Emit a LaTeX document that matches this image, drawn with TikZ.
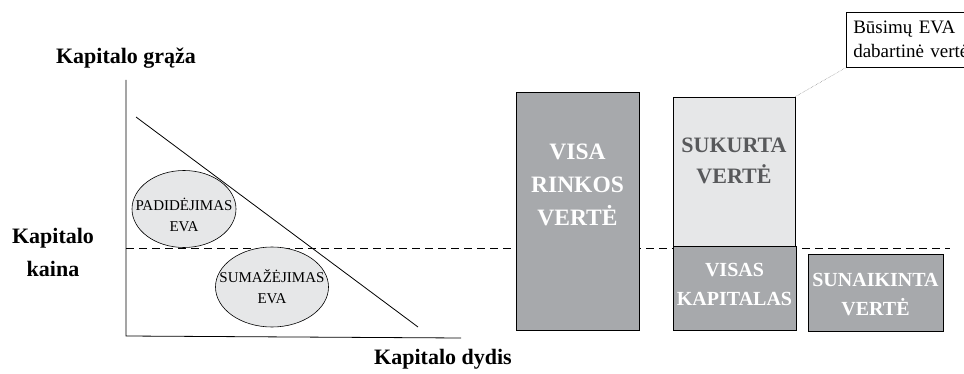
\documentclass[tikz,border=0pt]{standalone}
\usepackage{fontspec}
\setmainfont{Liberation Serif}
\usetikzlibrary{positioning, shapes.geometric}
\definecolor{evadark}{HTML}{A7A9AC}
\definecolor{evalight}{HTML}{E6E7E8}
\definecolor{evatext}{HTML}{58595B}

\begin{document}
\begin{tikzpicture}[
    x=1pt, y=-1pt,
    % Styles
    axislabel/.style={
        font=\fontsize{22}{33}\selectfont\bfseries, align=center, inner sep=0pt
    },
    evaoval/.style={
        ellipse, draw, line width=0.6pt, fill=evalight, inner sep=0pt
    },
    ovaltext/.style={
        font=\fontsize{15}{21}\selectfont, align=center, inner sep=0pt
    },
    valuebox/.style={
        rectangle, draw, line width=0.8pt, fill=evadark, inner sep=0pt
    },
    boxtext/.style={
        font=\fontsize{#1}{29}\selectfont\bfseries, align=center,
        text=white, inner sep=0pt
    },
    dashline/.style={
        line width=0.8pt, dash pattern=on 8pt off 5pt
    },
    note/.style={
        rectangle, draw, line width=0.6pt, fill=white, anchor=north west,
        text width=150pt, minimum height=55pt, inner xsep=7pt,
        font=\fontsize{19}{24}\selectfont, align=left
    }
]
    \useasboundingbox (0,0) rectangle (964,374);

    % --- 1. Axes and labels ---
    \coordinate (origin) at (126,336);
    \coordinate (ytop) at (126,80);
    \coordinate (xend) at (461,338);
    \coordinate (dstart) at (136,117);
    \coordinate (dend) at (418,327);
    \coordinate (cstart) at (126,248);
    \coordinate (cend) at (950,248);

    \draw[line width=0.8pt] (ytop) -- (origin) -- (xend);
    \draw[line width=0.8pt] (dstart) -- (dend);
    \draw[dashline] (cstart) -- (cend);

    \node[axislabel] (graza) at (126,58) {Kapitalo grąža};
    \node[axislabel] (kaina) at (53,252) {Kapitalo\\kaina};
    \node[axislabel] (dydis) at (443,359) {Kapitalo dydis};

    % --- 2. EVA ovals ---
    \node[evaoval, minimum width=104pt, minimum height=77pt,
          label={[ovaltext, yshift=-6pt]center:{PADIDĖJIMAS\\EVA}}] (padid) at (184,209) {};
    \node[evaoval, minimum width=113pt, minimum height=80pt,
          label={[ovaltext]center:{SUMAŽĖJIMAS\\EVA}}] (sumaz) at (272,287) {};

    % --- 3. Value boxes ---
    \node[valuebox, minimum width=123pt, minimum height=238pt] (rinka) at (577.5,211) {};
    \node[boxtext=23, font=\fontsize{23.5}{33}\selectfont\bfseries] (rinkatxt) at (577.5,185)
        {VISA\\RINKOS\\VERTĖ};

    \node[valuebox, fill=evalight, minimum width=122pt, minimum height=149pt] (sukurta) at (734,171.5) {};
    \node[boxtext=22, text=evatext, font=\fontsize{22}{31}\selectfont\bfseries] (sukurtatxt) at (734,161)
        {SUKURTA\\VERTĖ};

    \node[valuebox, minimum width=123pt, minimum height=84pt] (kapitalas) at (734.5,288) {};
    \node[boxtext=20] (kapitalastxt) at (734.5,284) {VISAS\\KAPITALAS};

    \node[valuebox, minimum width=135pt, minimum height=77pt] (sunaikinta) at (875.5,292.5) {};
    \node[boxtext=20] (sunaikintatxt) at (875.5,295) {SUNAIKINTA\\VERTĖ};

    % --- 4. Callout ---
    \node[note] (busimu) at (846,12) {Būsimų EVA\\dabartinė vertė};
    \draw[gray, densely dotted, line width=0.5pt] (sukurta.north east) -- (busimu.south west);

\end{tikzpicture}
\end{document}
